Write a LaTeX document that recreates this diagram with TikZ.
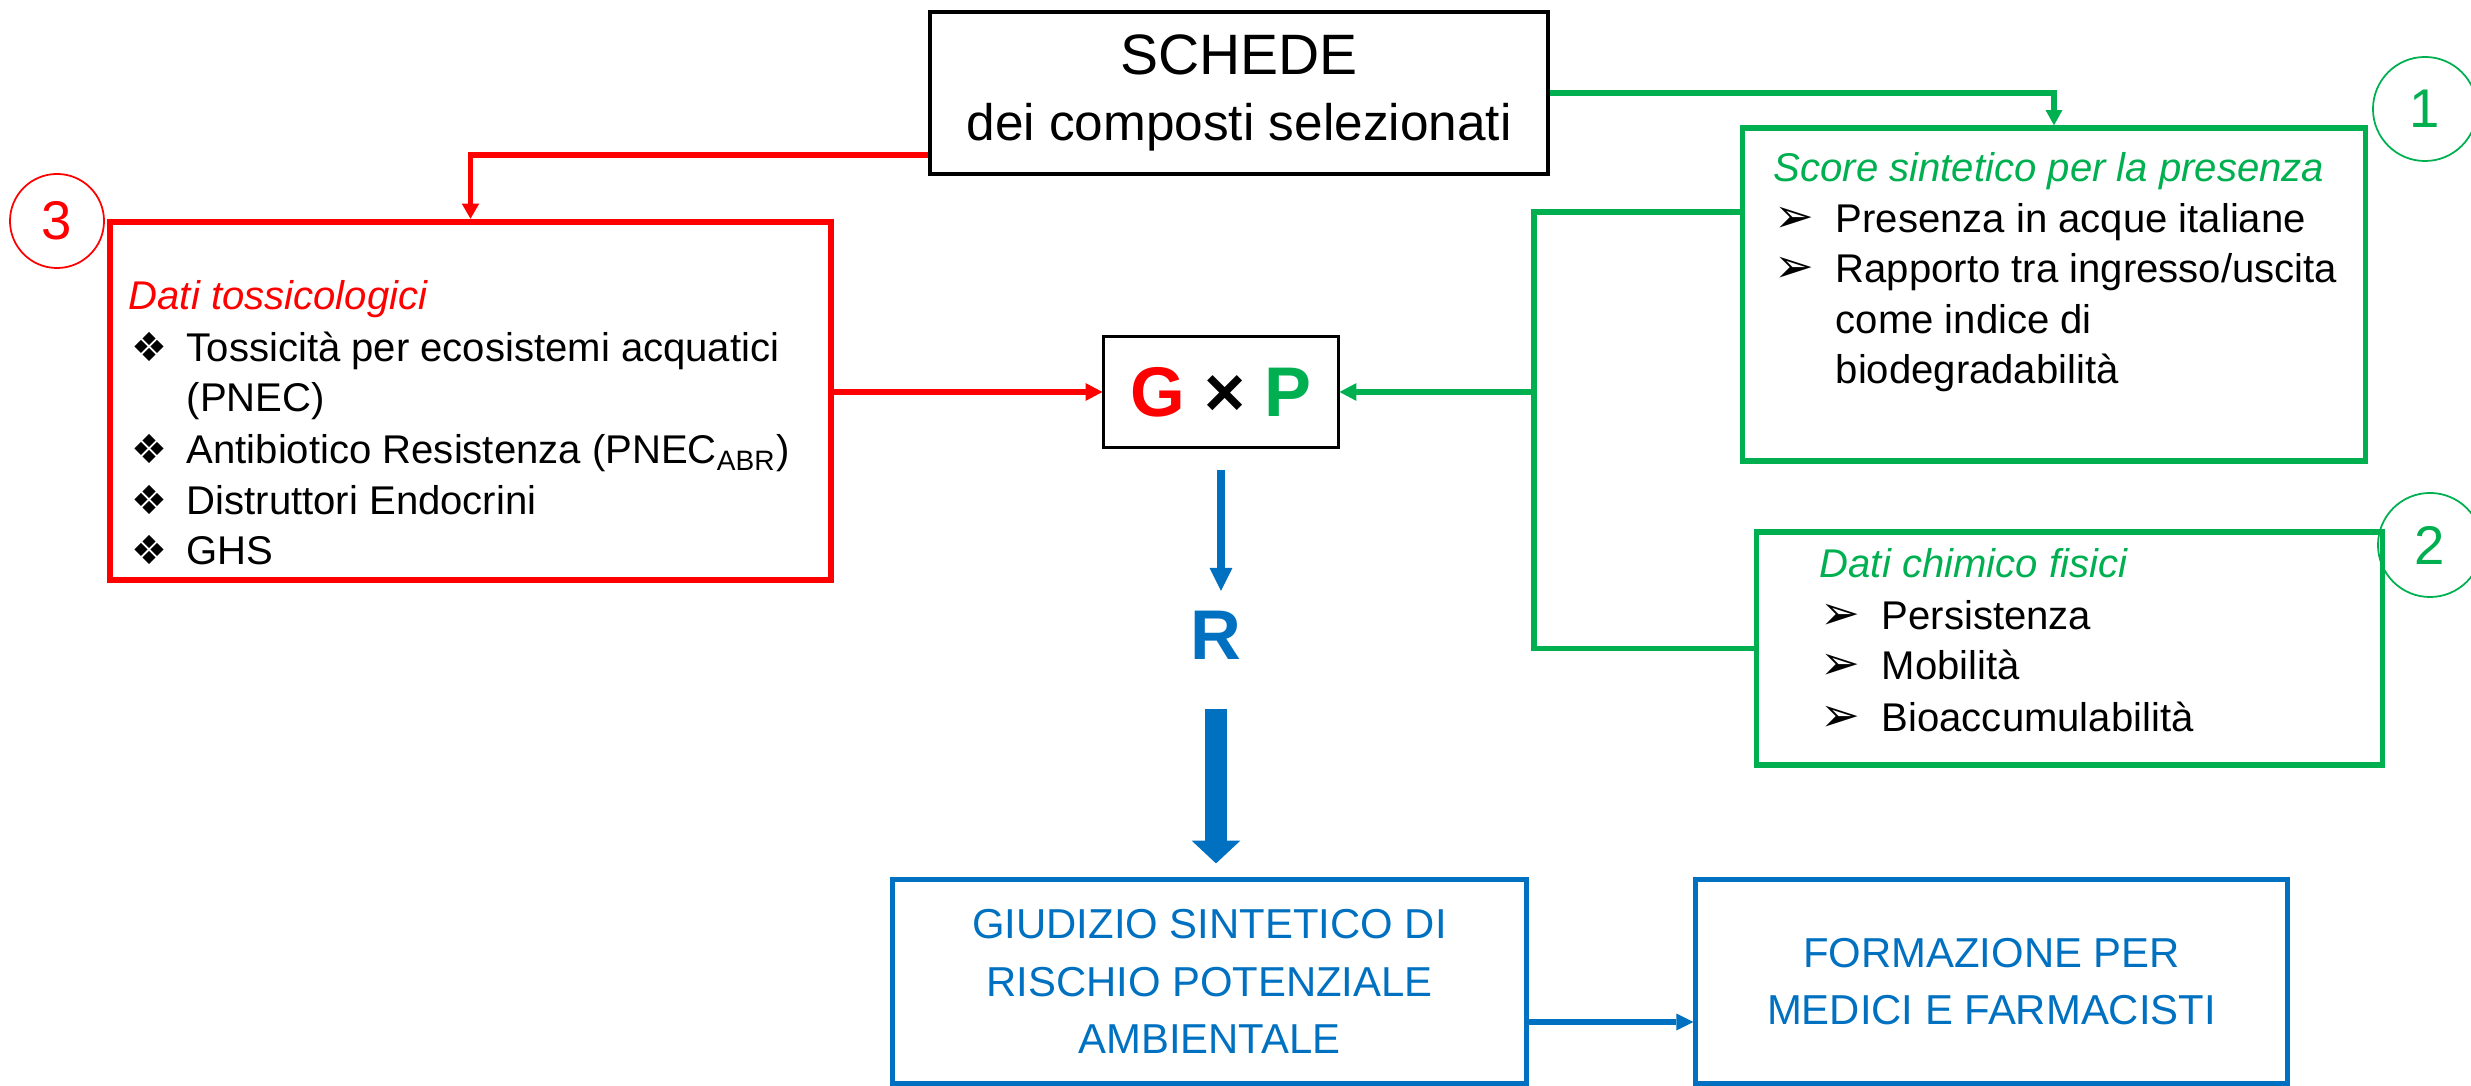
\documentclass[tikz,border=0pt]{standalone}
\usepackage{fontspec}
\setmainfont{Liberation Sans}
\newfontfamily\simboli{DejaVu Sans}
\usetikzlibrary{arrows.meta,positioning}
\definecolor{rosso}{RGB}{255,0,0}
\definecolor{verde}{RGB}{0,176,80}
\definecolor{blu}{RGB}{0,112,192}
\newcommand{\rombo}{{\simboli ❖}}
\newcommand{\freccia}{{\simboli\fontsize{13.5}{14}\selectfont ➢}}

\begin{document}
\begin{tikzpicture}[x=0.01cm,y=-0.01cm,
  scatola/.style={draw,rectangle,inner sep=0pt},
  riga/.style={anchor=base west,inner sep=0pt,font=\fontsize{11.4}{13.7}\selectfont},
  numero/.style={draw,circle,line width=0.5pt,inner sep=0pt,font=\fontsize{15.5}{18}\selectfont},
  punta/.style 2 args={-{Triangle[length=#1,width=#2,line width=0pt]}},
  grande/.style={font=\bfseries\fontsize{20}{24}\selectfont}]
\useasboundingbox (0,0) rectangle (2471,1086);

% schede
\node[scatola,line width=1.2pt,minimum width=6.18cm,minimum height=1.62cm,align=center,font=\fontsize{14.6}{19}\selectfont] (scheda) at (1239,93) {{\fontsize{16.2}{19}\selectfont SCHEDE}\\dei composti selezionati};

% dati tossicologici
\node[scatola,draw=rosso,line width=1.8pt,minimum width=7.21cm,minimum height=3.58cm] (tossic) at (470.5,401) {};
\node[riga,text=rosso] (tossic-tit) at (128,310) {\itshape Dati tossicologici};
\foreach \y/\n in {362/1,464/3,515/4,565/5}
  \node[riga] (tossic-b\n) at (131,\y) {\rombo};
\node[riga] (tossic-1) at (186,362) {Tossicità per ecosistemi acquatici};
\node[riga] (tossic-2) at (186,412) {(PNEC)};
\node[riga] (tossic-3) at (186,464) {Antibiotico Resistenza (PNEC\textsubscript{ABR})};
\node[riga] (tossic-4) at (186,515) {Distruttori Endocrini};
\node[riga] (tossic-5) at (186,565) {GHS};
\node[numero,draw=rosso,text=rosso,minimum size=0.94cm] (num3) at (57,221) {3};

% presenza
\node[scatola,draw=verde,line width=1.5pt,minimum width=6.22cm,minimum height=3.33cm] (presenza) at (2054,294.5) {};
\node[riga,text=verde] (pres-tit) at (1773,182) {\itshape Score sintetico per la presenza};
\foreach \y/\n in {232.5/1,283/2}
  \node[riga] (pres-b\n) at (1774,\y) {\freccia};
\node[riga] (pres-1) at (1835,232.5) {Presenza in acque italiane};
\node[riga] (pres-2) at (1835,283) {Rapporto tra ingresso/uscita};
\node[riga] (pres-3) at (1835,334) {come indice di};
\node[riga] (pres-4) at (1835,384) {biodegradabilità};
\node[numero,draw=verde,text=verde,minimum size=1.04cm] (num1) at (2425,109) {1};

% chimico fisici
\node[scatola,draw=verde,line width=1.5pt,minimum width=6.25cm,minimum height=2.33cm] (chimfis) at (2069.5,648.5) {};
\node[riga,text=verde] (chim-tit) at (1819,578) {\itshape Dati chimico fisici};
\foreach \y/\n in {630/1,680/2,732/3}
  \node[riga] (chim-b\n) at (1820,\y) {\freccia};
\node[riga] (chim-1) at (1881,630) {Persistenza};
\node[riga] (chim-2) at (1881,680) {Mobilità};
\node[riga] (chim-3) at (1881,732) {Bioaccumulabilità};
\node[numero,draw=verde,text=verde,minimum size=1.04cm] (num2) at (2430,545) {2};

% G x P e R
\node[scatola,line width=0.85pt,minimum width=2.34cm,minimum height=1.1cm,grande] (gxp) at (1221,392) {\textcolor{rosso}{G} × \textcolor{verde}{P}};
\node[grande,text=blu,anchor=base,inner sep=0pt] (rischio) at (1216,660) {R};

% giudizio e formazione
\node[scatola,draw=blu,line width=1.4pt,minimum width=6.33cm,minimum height=2.03cm,align=center,text=blu,font=\fontsize{11.9}{16.4}\selectfont] (giudizio) at (1209.5,981.5) {GIUDIZIO SINTETICO DI\\RISCHIO POTENZIALE\\AMBIENTALE};
\node[scatola,draw=blu,line width=1.4pt,minimum width=5.91cm,minimum height=2.03cm,align=center,text=blu,font=\fontsize{11.9}{16.4}\selectfont] (formazione) at (1991.5,981.5) {FORMAZIONE PER\\MEDICI E FARMACISTI};

% frecce
\draw[rosso,line width=1.7pt,punta={4.3pt}{5pt}] ([yshift=-0.62cm]scheda.west) -| (tossic.north);
\draw[rosso,line width=1.65pt,punta={4.8pt}{5.1pt}] (tossic.east |- gxp.west) -- (gxp.west);
\draw[verde,line width=1.55pt,punta={4.3pt}{4.8pt}] (scheda.east) -| (presenza.north);
\coordinate (nodo) at (1534,392);
\draw[verde,line width=1.55pt] ([yshift=0.825cm]presenza.west) -| (nodo) |- (chimfis.west);
\draw[verde,line width=1.55pt,punta={4.8pt}{5.1pt}] (nodo) -- (gxp.east);
\draw[blu,line width=2.2pt,punta={6.5pt}{6.5pt},shorten <=6pt,shorten >=5.7pt] (gxp.south) -- (gxp.south |- rischio.north);
\draw[blu,line width=6.26pt,punta={6.5pt}{13.9pt},shorten <=13.7pt,shorten >=4pt] (rischio.south) -- (rischio.south |- giudizio.north);
\draw[blu,line width=1.7pt,punta={4.8pt}{4.8pt}] ([yshift=-0.405cm]giudizio.east) -- ([yshift=-0.405cm]formazione.west);
\end{tikzpicture}
\end{document}
